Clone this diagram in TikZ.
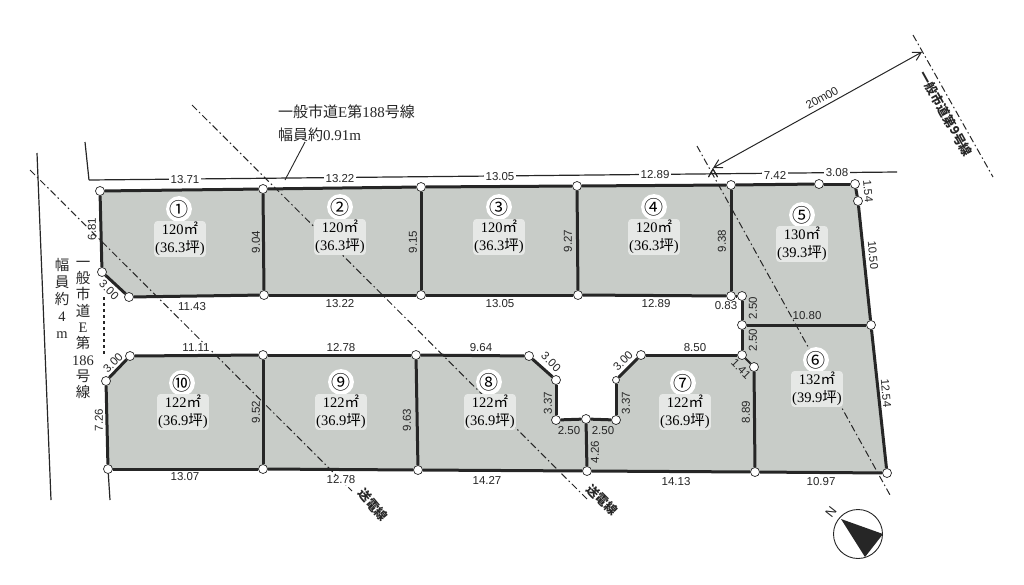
\documentclass[tikz,border=0pt]{standalone}
\usepackage{fontspec}
\setmainfont{Liberation Serif}
\setsansfont{Liberation Sans}
\newfontfamily\cjk{Noto Sans CJK JP}
\usetikzlibrary{backgrounds,arrows.meta}
\definecolor{lote}{RGB}{200,204,200}
\definecolor{tinta}{RGB}{38,38,38}
\tikzstyle{punto}= [circle,draw=tinta,fill=white,line width=0.7pt,minimum size=9pt,inner sep=0pt]
\tikzstyle{lindero}= [draw=tinta,line width=3pt]
\tikzstyle{camino}= [draw=tinta,line width=1.2pt]
\tikzstyle{eje}= [draw=tinta,line width=1pt,dash pattern=on 7pt off 3pt on 1.5pt off 3pt]
\tikzstyle{cota}= [font=\sffamily\fontsize{11.5}{12}\selectfont,text=tinta,inner sep=0.5pt]
\tikzstyle{cotab}= [cota,fill=white,inner sep=1.5pt]
\tikzstyle{numero}= [circle,fill=white,inner sep=0pt,font=\cjk\fontsize{19}{19}\selectfont,text=black]
\tikzstyle{area}= [align=center,font=\fontsize{14.5}{18}\selectfont,text=black,inner sep=1pt,fill=white!55!lote,rounded corners=3pt]
\tikzstyle{rotulo}= [align=left,font=\fontsize{15}{23}\selectfont,text=tinta,inner sep=0pt]
\tikzstyle{vertical}= [align=center,font=\fontsize{14.5}{16.3}\selectfont,text=tinta,inner sep=0pt]
\tikzstyle{sesgado}= [font=\cjk\bfseries\fontsize{12.5}{13}\selectfont,text=tinta,inner sep=0pt]
\begin{document}
\begin{tikzpicture}[x=1pt,y=-1pt]
	\useasboundingbox (0,0) rectangle (1024,584);

	% esquinas, fila de arriba
	\node (a1) at (100,191) [punto] {};
	\node (a2) at (263,189) [punto] {};
	\node (a3) at (421,187) [punto] {};
	\node (a4) at (577,186) [punto] {};
	\node (a5) at (731,185) [punto] {};
	\node (a6) at (819,184) [punto] {};
	\node (a7) at (855,184) [punto] {};
	\node (a8) at (858,201) [punto] {};
	\node (a9) at (871,325) [punto] {};
	\node (a10) at (102,272) [punto] {};
	\node (a11) at (129,297) [punto] {};
	\node (a12) at (264,295) [punto] {};
	\node (a13) at (421,295) [punto] {};
	\node (a14) at (578,295) [punto] {};
	\node (a15) at (731,296) [punto] {};
	\node (a16) at (742,296) [punto] {};
	\node (a17) at (742,325) [punto] {};

	% esquinas, fila de abajo
	\node (b1) at (106,381) [punto] {};
	\node (b2) at (130,356) [punto] {};
	\node (b3) at (263,355) [punto] {};
	\node (b4) at (416,355) [punto] {};
	\node (b5) at (529,356) [punto] {};
	\node (b6) at (556,380) [punto] {};
	\node (b7) at (556,420) [punto] {};
	\node (b8) at (586,419) [punto] {};
	\node (b9) at (616,420) [punto] {};
	\node (b10) at (616,380) [punto,minimum size=7pt] {};
	\node (b11) at (641,355) [punto] {};
	\node (b12) at (742,355) [punto] {};
	\node (b13) at (754,367) [punto] {};
	\node (b14) at (108,469) [punto] {};
	\node (b15) at (263,469) [punto] {};
	\node (b16) at (418,470) [punto] {};
	\node (b17) at (587,471) [punto] {};
	\node (b18) at (755,472) [punto] {};
	\node (b19) at (887,473) [punto] {};

	% fondo de los lotes
	\begin{scope}[on background layer]
		\fill[lote] (a1.center) -- (a7.center) -- (a8.center) -- (a9.center) -- (b19.center) -- (b14.center) -- (b1.center) -- (b2.center) -- (b5.center) -- (b6.center) -- (b7.center) -- (b9.center) -- (b10.center) -- (b11.center) -- (b12.center) -- (a16.center) -- (a15.center) -- (a11.center) -- (a10.center) -- cycle;
	\end{scope}

	% extremos libres
	\coordinate (c1) at (85,142);
	\coordinate (c2) at (89,180);
	\coordinate (c3) at (897,172);
	\coordinate (c4) at (37,153);
	\coordinate (c5) at (51,500);
	\coordinate (c6) at (110,500);
	\coordinate (c7) at (104,297);
	\coordinate (c8) at (104,356);
	\coordinate (c9) at (305,142);
	\coordinate (c10) at (285,180);
	\coordinate (e1) at (30,170);
	\coordinate (e2) at (352,491);
	\coordinate (e3) at (192,105);
	\coordinate (e4) at (588,500);
	\coordinate (e5) at (697,146);
	\coordinate (e6) at (890,495);
	\coordinate (e7) at (913,35);
	\coordinate (e8) at (993,177);
	\coordinate (f1) at (713,168);
	\coordinate (f2) at (922,52);

	% ejes
	\path[eje] (e1) edge[] node {} (e2);
	\path[eje] (e3) edge[] node {} (e4);
	\path[eje] (e5) edge[] node {} (e6);
	\path[eje] (e7) edge[] node {} (e8);

	% caminos
	\path[camino] (c1) edge[] node {} (c2);
	\path[camino] (c2) edge[] node {} (c3);
	\path[camino] (c4) edge[] node {} (c5);
	\path[camino] (b14) edge[] node {} (c6);
	\path[camino,dashed] (c7) edge[] node {} (c8);
	\path[draw=tinta,line width=0.9pt] (c9) edge[] node {} (c10);
	\path[draw=tinta,line width=1pt,{Straight Barb[length=8pt,width=9pt]}-{Straight Barb[length=8pt,width=9pt]}] (f1) edge[] node {} (f2);

	% linderos
	\path[lindero] (a1) edge[] node {} (a2);
	\path[lindero] (a2) edge[] node {} (a3);
	\path[lindero] (a3) edge[] node {} (a4);
	\path[lindero] (a4) edge[] node {} (a5);
	\path[lindero] (a5) edge[] node {} (a6);
	\path[lindero] (a6) edge[] node {} (a7);
	\path[lindero] (a7) edge[] node {} (a8);
	\path[lindero] (a8) edge[] node {} (a9);
	\path[lindero] (a9) edge[] node {} (b19);
	\path[lindero] (a1) edge[] node {} (a10);
	\path[lindero] (a10) edge[] node {} (a11);
	\path[lindero] (a11) edge[] node {} (a12);
	\path[lindero] (a12) edge[] node {} (a13);
	\path[lindero] (a13) edge[] node {} (a14);
	\path[lindero] (a14) edge[] node {} (a15);
	\path[lindero] (a15) edge[] node {} (a16);
	\path[lindero] (a16) edge[] node {} (a17);
	\path[lindero] (a17) edge[] node {} (b12);
	\path[lindero] (a17) edge[] node {} (a9);
	\path[lindero] (a2) edge[] node {} (a12);
	\path[lindero] (a3) edge[] node {} (a13);
	\path[lindero] (a4) edge[] node {} (a14);
	\path[lindero] (a5) edge[] node {} (a15);

	\path[lindero] (b14) edge[] node {} (b1);
	\path[lindero] (b1) edge[] node {} (b2);
	\path[lindero] (b2) edge[] node {} (b3);
	\path[lindero] (b3) edge[] node {} (b4);
	\path[lindero] (b4) edge[] node {} (b5);
	\path[lindero] (b5) edge[] node {} (b6);
	\path[lindero] (b6) edge[] node {} (b7);
	\path[lindero] (b7) edge[] node {} (b8);
	\path[lindero] (b8) edge[] node {} (b9);
	\path[lindero] (b9) edge[] node {} (b10);
	\path[lindero] (b10) edge[] node {} (b11);
	\path[lindero] (b11) edge[] node {} (b12);
	\path[lindero,line width=1.8pt] (b12) edge[] node {} (b13);
	\path[lindero] (b13) edge[] node {} (b18);
	\path[lindero] (b14) edge[] node {} (b15);
	\path[lindero] (b15) edge[] node {} (b16);
	\path[lindero] (b16) edge[] node {} (b17);
	\path[lindero] (b17) edge[] node {} (b18);
	\path[lindero] (b18) edge[] node {} (b19);
	\path[lindero] (b3) edge[] node {} (b15);
	\path[lindero] (b4) edge[] node {} (b16);
	\path[lindero] (b8) edge[] node {} (b17);

	% lotes
	\node (n1) at (179,209) [numero] {①};
	\node (s1) at (180,239) [area] {120{\cjk ㎡}\\(36.3{\cjk 坪})};
	\node (n2) at (340,207) [numero] {②};
	\node (s2) at (340,237) [area] {120{\cjk ㎡}\\(36.3{\cjk 坪})};
	\node (n3) at (499,207) [numero] {③};
	\node (s3) at (499,237) [area] {120{\cjk ㎡}\\(36.3{\cjk 坪})};
	\node (n4) at (654,207) [numero] {④};
	\node (s4) at (654,237) [area] {120{\cjk ㎡}\\(36.3{\cjk 坪})};
	\node (n5) at (802,215) [numero] {⑤};
	\node (s5) at (802,244) [area] {130{\cjk ㎡}\\(39.3{\cjk 坪})};
	\node (n6) at (816,360) [numero] {⑥};
	\node (s6) at (817,389) [area] {132{\cjk ㎡}\\(39.9{\cjk 坪})};
	\node (n7) at (683,383) [numero] {⑦};
	\node (s7) at (685,412) [area] {122{\cjk ㎡}\\(36.9{\cjk 坪})};
	\node (n8) at (489,382) [numero] {⑧};
	\node (s8) at (490,412) [area] {122{\cjk ㎡}\\(36.9{\cjk 坪})};
	\node (n9) at (341,382) [numero] {⑨};
	\node (s9) at (341,412) [area] {122{\cjk ㎡}\\(36.9{\cjk 坪})};
	\node (n10) at (182,383) [numero] {⑩};
	\node (s10) at (183,412) [area] {122{\cjk ㎡}\\(36.9{\cjk 坪})};

	% cotas de arriba
	\node (t1) at (185,180) [cotab] {13.71};
	\node (t2) at (340,179) [cotab] {13.22};
	\node (t3) at (500,177) [cotab] {13.05};
	\node (t4) at (655,175) [cotab] {12.89};
	\node (t5) at (775,175) [cotab] {7.42};
	\node (t6) at (837,173) [cotab] {3.08};
	\node (t7) at (868,191) [cota,rotate=-85] {1.54};
	\node (t8) at (873,255) [cota,rotate=-85] {10.50};
	\node (t9) at (886,393) [cota,rotate=-85] {12.54};
	\node (t10) at (807,316) [cota] {10.80};
	\node (t11) at (753,308) [cota,rotate=90] {2.50};
	\node (t12) at (753,340) [cota,rotate=90] {2.50};
	\node (t13) at (726,306) [cota] {0.83};
	\node (t14) at (656,304) [cota] {12.89};
	\node (t15) at (500,304) [cota] {13.05};
	\node (t16) at (340,304) [cota] {13.22};
	\node (t17) at (192,307) [cota] {11.43};
	\node (t18) at (109,290) [cota,rotate=-45] {3.00};
	\node (t19) at (92,229) [cota,rotate=90] {6.81};
	\node (t20) at (256,242) [cota,rotate=90] {9.04};
	\node (t21) at (413,242) [cota,rotate=90] {9.15};
	\node (t22) at (568,241) [cota,rotate=90] {9.27};
	\node (t23) at (722,241) [cota,rotate=90] {9.38};

	% cotas de abajo
	\node (u1) at (196,348) [cotab,inner sep=0.5pt] {11.11};
	\node (u2) at (341,348) [cota] {12.78};
	\node (u3) at (481,348) [cota] {9.64};
	\node (u4) at (551,362) [cota,rotate=-45] {3.00};
	\node (u5) at (548,403) [cota,rotate=90] {3.37};
	\node (u6) at (569,431) [cota] {2.50};
	\node (u7) at (603,431) [cota] {2.50};
	\node (u8) at (626,403) [cota,rotate=90] {3.37};
	\node (u9) at (623,361) [cota,rotate=45] {3.00};
	\node (u10) at (695,348) [cota] {8.50};
	\node (u11) at (595,452) [cota,rotate=90] {4.26};
	\node (u12) at (746,412) [cota,rotate=90] {8.89};
	\node (u13) at (741,369) [cota,rotate=-45] {1.41};
	\node (u14) at (676,482) [cota] {14.13};
	\node (u15) at (821,482) [cota] {10.97};
	\node (u16) at (487,480) [cota] {14.27};
	\node (u17) at (341,480) [cotab,inner sep=0.5pt] {12.78};
	\node (u18) at (185,477) [cota] {13.07};
	\node (u19) at (407,420) [cota,rotate=90] {9.63};
	\node (u20) at (256,412) [cota,rotate=90] {9.52};
	\node (u21) at (99,420) [cota,rotate=90] {7.26};
	\node (u22) at (113,363) [cota,rotate=45] {3.00};

	% rotulos
	\node (r1) at (278,123) [rotulo,anchor=west] {{\cjk 一般市道}E{\cjk 第}188{\cjk 号線}\\{\cjk 幅員約}0.91m};
	\node (r2) at (83,330) [vertical] {{\cjk 一}\\{\cjk 般}\\{\cjk 市}\\{\cjk 道}\\E\\{\cjk 第}\\186\\{\cjk 号}\\{\cjk 線}};
	\node (r3) at (62,298) [vertical,font=\fontsize{14.5}{17}\selectfont] {{\cjk 幅}\\{\cjk 員}\\{\cjk 約}\\4\\m};
	\node (r4) at (946,114) [sesgado,rotate=-61] {一般市道第9号線};
	\node (r5) at (373,505) [sesgado,rotate=-50] {送電線};
	\node (r6) at (602,500) [sesgado,rotate=-45] {送電線};
	\node (r7) at (822,98) [cota,rotate=29] {20m00};

	% norte
	\node (norte) at (858,534) [circle,draw=tinta,fill=white,line width=0.9pt,minimum size=49pt,inner sep=0pt] {};
	\coordinate (p1) at (841,519);
	\coordinate (p2) at (883,534);
	\coordinate (p3) at (865,557);
	\fill[tinta] (p1) -- (p2) -- (p3) -- cycle;
	\node (n) at (831,512) [cota,rotate=52,font=\sffamily\fontsize{13}{13}\selectfont] {N};

\end{tikzpicture}
\end{document}
